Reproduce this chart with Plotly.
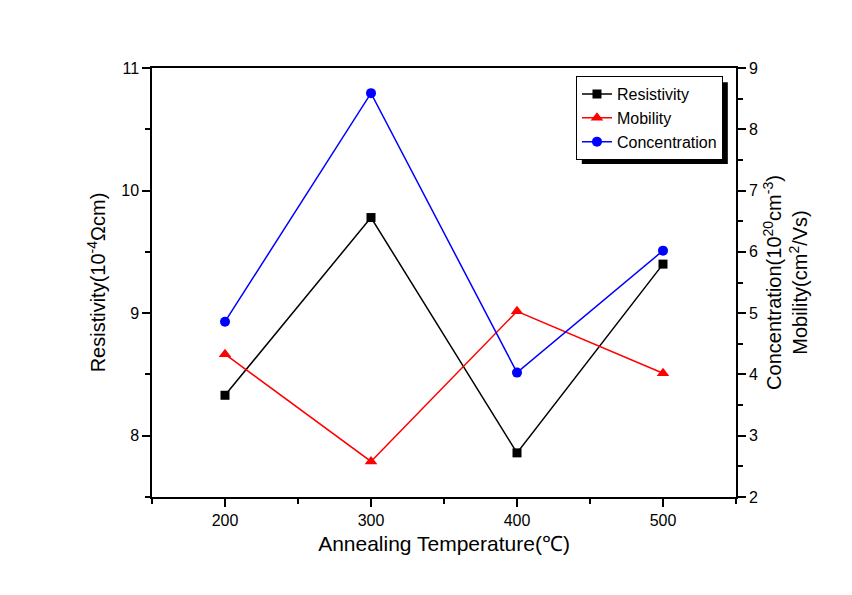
import plotly.graph_objects as go

temperature = [200, 300, 400, 500]
resistivity = [8.33, 9.78, 7.86, 9.40]
mobility = [4.33, 2.58, 5.03, 4.02]
concentration = [4.86, 8.59, 4.03, 6.02]

FONT = "Liberation Sans, Arial, sans-serif"

fig = go.Figure()
fig.add_trace(go.Scatter(x=temperature, y=resistivity, name="Resistivity", mode="lines+markers",
                         line=dict(color="black", width=1.5),
                         marker=dict(symbol="square", size=9, color="black"), yaxis="y"))
fig.add_trace(go.Scatter(x=temperature, y=mobility, name="Mobility", mode="lines+markers",
                         line=dict(color="#FF0000", width=1.5),
                         marker=dict(symbol="triangle-up", size=11, color="#FF0000"), yaxis="y2"))
fig.add_trace(go.Scatter(x=temperature, y=concentration, name="Concentration", mode="lines+markers",
                         line=dict(color="#0000FF", width=1.5),
                         marker=dict(symbol="circle", size=10, color="#0000FF"), yaxis="y2"))

axis_common = dict(showgrid=False, zeroline=False, showline=True, linecolor="black", linewidth=1.5,
                   ticks="outside", ticklen=8, tickwidth=1.5, tickcolor="black",
                   tickfont=dict(size=16, color="black", family=FONT))

fig.update_layout(
    width=852, height=595,
    margin=dict(l=144, r=124, t=60, b=106),
    paper_bgcolor="white", plot_bgcolor="white",
    font=dict(family=FONT, color="black"),
    xaxis=dict(range=[150, 550], tickvals=[200, 300, 400, 500], mirror=True,
               minor=dict(tickvals=[150, 250, 350, 450, 550], ticklen=5, tickwidth=1.5, tickcolor="black", ticks="outside"),
               title=dict(text="Annealing Temperature(℃)", font=dict(size=21, family=FONT), standoff=8),
               **axis_common),
    yaxis=dict(range=[7.5, 11], tickvals=[8, 9, 10, 11],
               minor=dict(tickvals=[7.5, 8.5, 9.5, 10.5], ticklen=5, tickwidth=1.5, tickcolor="black", ticks="outside"),
               title=dict(text="Resistivity(10<sup>-4</sup>Ωcm)", font=dict(size=20, family=FONT), standoff=10),
               **axis_common),
    yaxis2=dict(range=[2, 9], tickvals=[2, 3, 4, 5, 6, 7, 8, 9], overlaying="y", side="right",
                minor=dict(tickvals=[2.5, 3.5, 4.5, 5.5, 6.5, 7.5, 8.5], ticklen=5, tickwidth=1.5, tickcolor="black", ticks="outside"),
                title=dict(text="Concentration(10<sup>20</sup>cm<sup>-3</sup>)<br>Mobility(cm<sup>2</sup>/Vs)",
                           font=dict(size=20, family=FONT), standoff=10),
                **axis_common),
    legend=dict(x=0.726, y=0.981, xanchor="left", yanchor="top",
                bgcolor="white", bordercolor="black", borderwidth=1,
                font=dict(size=16, family=FONT, color="black"),
                itemwidth=30, tracegroupgap=0),
    shapes=[dict(type="rect", xref="paper", yref="paper", x0=0.736, x1=0.986, y0=0.776, y1=0.967,
                 fillcolor="black", line=dict(width=0), layer="above")],
)

fig.write_html("out.html")
